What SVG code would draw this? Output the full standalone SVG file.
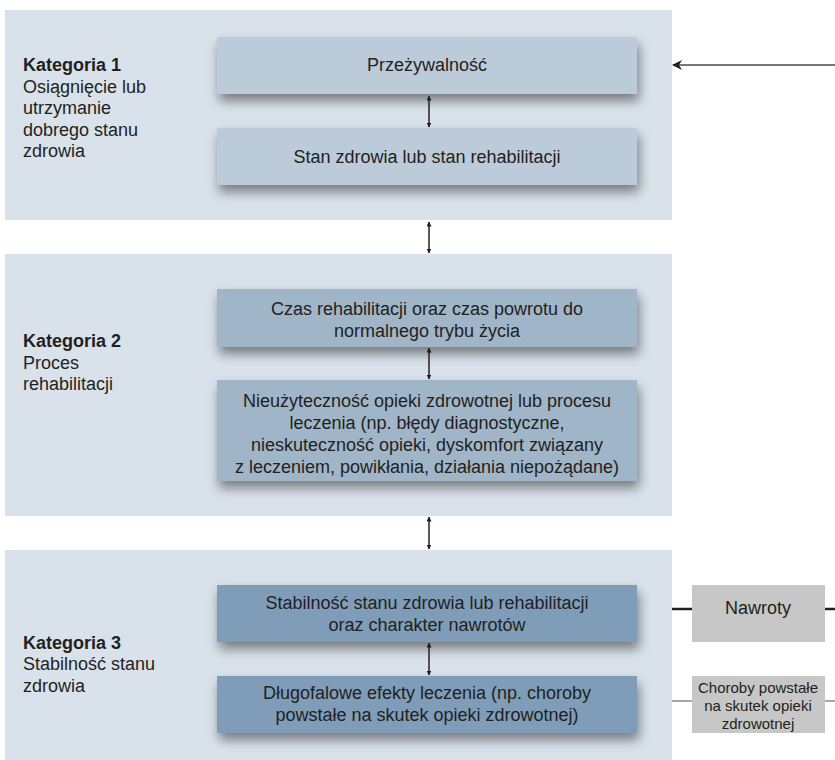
<svg xmlns="http://www.w3.org/2000/svg" width="835" height="760" viewBox="0 0 835 760">
<defs>
<style>
text{font-family:"Liberation Sans",Arial,sans-serif;fill:#231f20;font-size:18px}
.c{text-anchor:middle}
.b{font-weight:bold}
.panel{fill:#d9e2ea}
.b1{fill:#bccbd9}
.b2{fill:#a0b5c8}
.b3{fill:#7f9db8}
.g{fill:#c7c7c7}
.sm{font-size:15px}
.dbl{stroke:#231f20;stroke-width:1.5;fill:none;marker-start:url(#ah);marker-end:url(#ah)}
</style>
<marker id="ah" viewBox="0 0 10 10" refX="9" refY="5" markerWidth="5" markerHeight="5" orient="auto-start-reverse" markerUnits="userSpaceOnUse">
<path d="M0,0 L10,5 L0,10 Z" fill="#231f20"/>
</marker>
<marker id="ah2" viewBox="0 0 10 10" refX="9" refY="5" markerWidth="10" markerHeight="10" orient="auto" markerUnits="userSpaceOnUse">
<path d="M0,0 L10,5 L0,10 L3,5 Z" fill="#231f20"/>
</marker>
<filter id="sh" x="-10%" y="-30%" width="120%" height="180%">
<feDropShadow dx="2" dy="7" stdDeviation="6" flood-color="#000" flood-opacity="0.45"/>
</filter>
</defs>

<g id="kategoria1">
<rect class="panel" x="5" y="10" width="667" height="210"/>
<text x="23" y="71" class="b">Kategoria 1</text>
<text x="23" y="93">Osiągnięcie lub</text>
<text x="23" y="114">utrzymanie</text>
<text x="23" y="136">dobrego stanu</text>
<text x="23" y="157">zdrowia</text>
</g>
<g id="kategoria2">
<rect class="panel" x="5" y="254" width="667" height="262"/>
<text x="23" y="347" class="b">Kategoria 2</text>
<text x="23" y="369">Proces</text>
<text x="23" y="390">rehabilitacji</text>
</g>
<g id="kategoria3">
<rect class="panel" x="5" y="550" width="667" height="210"/>
<text x="23" y="649" class="b">Kategoria 3</text>
<text x="23" y="670">Stabilność stanu</text>
<text x="23" y="692">zdrowia</text>
</g>

<g id="przezywalnosc">
<rect class="b1" x="217" y="37" width="420" height="57" filter="url(#sh)"/>
<text x="427" y="71" class="c">Przeżywalność</text>
</g>
<g id="stan-zdrowia">
<rect class="b1" x="217" y="128" width="420" height="57" filter="url(#sh)"/>
<text x="427" y="163" class="c">Stan zdrowia lub stan rehabilitacji</text>
</g>
<g id="czas-rehabilitacji">
<rect class="b2" x="217" y="289" width="420" height="58" filter="url(#sh)"/>
<text x="427" y="315" class="c">Czas rehabilitacji oraz czas powrotu do</text>
<text x="427" y="337" class="c">normalnego trybu życia</text>
</g>
<g id="nieuzytecznosc">
<rect class="b2" x="217" y="380" width="420" height="101" filter="url(#sh)"/>
<text x="427" y="407" class="c">Nieużyteczność opieki zdrowotnej lub procesu</text>
<text x="427" y="429" class="c">leczenia (np. błędy diagnostyczne,</text>
<text x="427" y="451" class="c">nieskuteczność opieki, dyskomfort związany</text>
<text x="427" y="473" class="c">z leczeniem, powikłania, działania niepożądane)</text>
</g>
<g id="stabilnosc">
<rect class="b3" x="217" y="585" width="420" height="57" filter="url(#sh)"/>
<text x="427" y="609" class="c">Stabilność stanu zdrowia lub rehabilitacji</text>
<text x="427" y="631" class="c">oraz charakter nawrotów</text>
</g>
<g id="dlugofalowe">
<rect class="b3" x="217" y="676" width="420" height="57" filter="url(#sh)"/>
<text x="427" y="699" class="c">Długofalowe efekty leczenia (np. choroby</text>
<text x="427" y="721" class="c">powstałe na skutek opieki zdrowotnej)</text>
</g>
<g id="nawroty">
<rect class="g" x="692" y="585" width="133" height="57"/>
<text x="758" y="614" class="c">Nawroty</text>
</g>
<g id="choroby">
<rect class="g" x="692" y="676" width="133" height="57"/>
<text x="758" y="693" class="c sm">Choroby powstałe</text>
<text x="758" y="711" class="c sm">na skutek opieki</text>
<text x="758" y="729" class="c sm">zdrowotnej</text>
</g>

<g id="connectors">
<line class="dbl" x1="429" y1="96" x2="429" y2="127"/>
<line class="dbl" x1="429" y1="222" x2="429" y2="253"/>
<line class="dbl" x1="429" y1="348" x2="429" y2="379"/>
<line class="dbl" x1="429" y1="517" x2="429" y2="549"/>
<line class="dbl" x1="429" y1="643" x2="429" y2="675"/>
<line x1="835" y1="65" x2="673" y2="65" stroke="#777" stroke-width="2" marker-end="url(#ah2)"/>
<line x1="672" y1="609" x2="692" y2="609" stroke="#231f20" stroke-width="2.5"/>
<line x1="825" y1="609" x2="835" y2="609" stroke="#231f20" stroke-width="2.5"/>
<line x1="672" y1="701" x2="692" y2="701" stroke="#8a8a8a" stroke-width="1.5"/>
<line x1="825" y1="701" x2="835" y2="701" stroke="#8a8a8a" stroke-width="1.5"/>
</g>
</svg>
